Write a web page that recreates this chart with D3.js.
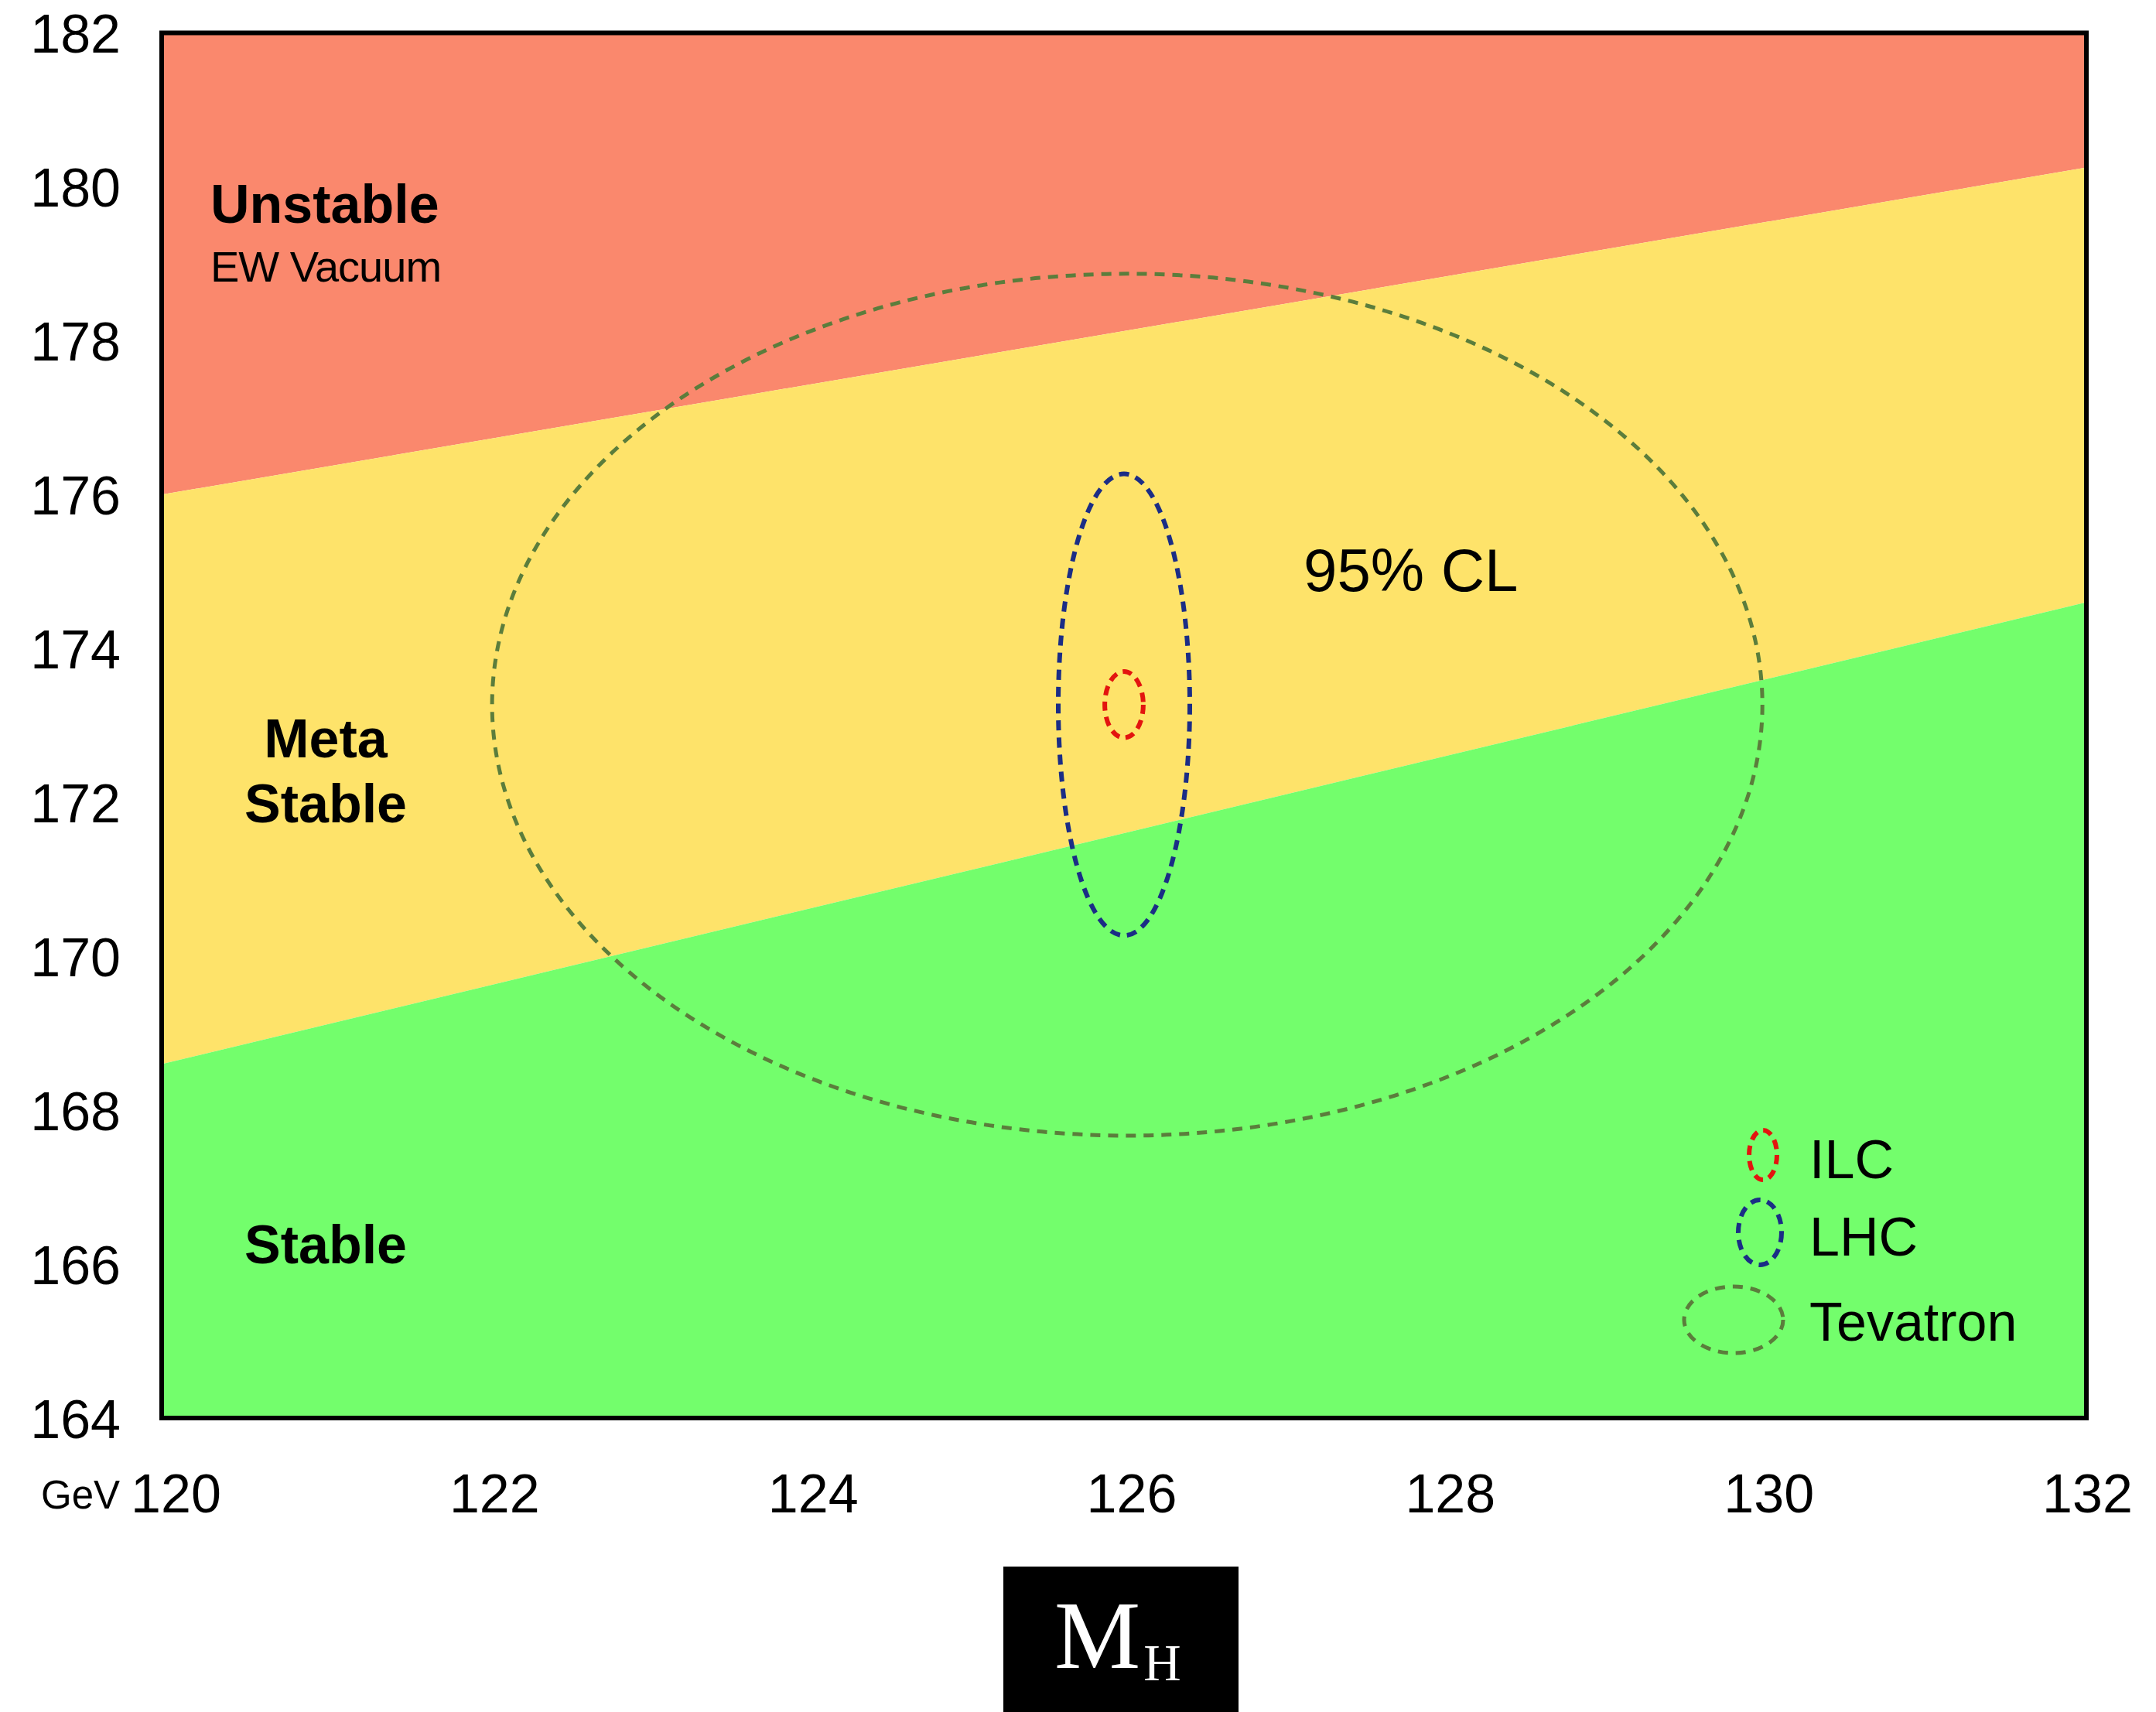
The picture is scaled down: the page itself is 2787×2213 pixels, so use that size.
<!DOCTYPE html>
<html>
<head>
<meta charset="utf-8">
<script src="https://cdn.jsdelivr.net/npm/d3@7"></script>
<style>
  html, body { margin: 0; padding: 0; background: #fff; }
  svg { display: block; font-family: "Liberation Sans", Arial, Helvetica, sans-serif; }
</style>
</head>
<body>
<svg id="chart" width="2787" height="2213"></svg>
<script>
// Higgs mass (GeV) range of the plot and top mass (GeV) range
const higgsDomain = [120, 132];
const topDomain = [164, 182];
const xTicks = [120, 122, 124, 126, 128, 130, 132];
const yTicks = [164, 166, 168, 170, 172, 174, 176, 178, 180, 182];

// stability boundaries: top mass at M_H = 120 and at M_H = 132
const boundaryMH = [120, 132];
const unstableEdge = [176.0, 180.25];
const stableEdge = [168.6, 174.6];

// measurement ellipses (centre and half-axes)
const expNames = ['Tevatron', 'LHC', 'ILC'];
const expCenterMH = [126.02, 126.0, 126.0];
const expCenterMt = [173.27, 173.27, 173.27];
const expHalfMH = [3.96, 0.41, 0.12];
const expHalfMt = [5.6, 3.0, 0.43];
const expColors = ['#5b7d3c', '#1b2d86', '#e3140f'];

const svg = d3.select('#chart');
const margin = { top: 42.5, left: 209 };
const plotBottom = 1833;
const plotRight = 2697;

const x = d3.scaleLinear().domain(higgsDomain).range([margin.left, plotRight]);
const y = d3.scaleLinear().domain(topDomain).range([plotBottom, margin.top]);
// tick labels sit slightly right of the frame ticks in the original
const xLabel = d3.scaleLinear().domain(higgsDomain).range([227, 2698]);

svg.append('defs').append('clipPath').attr('id', 'plotclip')
  .append('rect')
  .attr('x', x(higgsDomain[0])).attr('y', y(topDomain[1]))
  .attr('width', x(higgsDomain[1]) - x(higgsDomain[0]))
  .attr('height', y(topDomain[0]) - y(topDomain[1]));

const bands = svg.append('g').attr('clip-path', 'url(#plotclip)');
const pts = boundaryMH.map((m, i) => ({ m, hi: unstableEdge[i], lo: stableEdge[i] }));

const area = d3.area().x((d) => x(d.m));

bands.append('path')
  .attr('d', area.y0((d) => y(d.hi)).y1(() => y(topDomain[1]))(pts))
  .attr('fill', '#fa886d');

bands.append('path')
  .attr('d', area.y0((d) => y(d.lo)).y1((d) => y(d.hi))(pts))
  .attr('fill', '#fee36a');

bands.append('path')
  .attr('d', area.y0(() => y(topDomain[0])).y1((d) => y(d.lo))(pts))
  .attr('fill', '#73fe6c');

// ellipses
const dashes = ['13,10', '13,9', '12,8'];
const widths = [5, 6, 6];
bands.selectAll('.ell')
  .data(expNames)
  .enter()
  .append('ellipse')
  .attr('cx', (d, i) => x(expCenterMH[i]))
  .attr('cy', (d, i) => y(expCenterMt[i]))
  .attr('rx', (d, i) => x(expCenterMH[i] + expHalfMH[i]) - x(expCenterMH[i]))
  .attr('ry', (d, i) => y(expCenterMt[i]) - y(expCenterMt[i] + expHalfMt[i]))
  .attr('fill', 'none')
  .attr('stroke', (d, i) => expColors[i])
  .attr('stroke-width', (d, i) => widths[i])
  .attr('stroke-dasharray', (d, i) => dashes[i]);

// frame
svg.append('rect')
  .attr('x', x(higgsDomain[0])).attr('y', y(topDomain[1]))
  .attr('width', x(higgsDomain[1]) - x(higgsDomain[0]))
  .attr('height', y(topDomain[0]) - y(topDomain[1]))
  .attr('fill', 'none')
  .attr('stroke', '#000')
  .attr('stroke-width', 6);

// axes
const yAxis = svg.append('g')
  .attr('transform', `translate(${margin.left - 53},0)`)
  .call(d3.axisLeft(y).tickValues(yTicks).tickSize(0).tickPadding(0).tickFormat(d3.format('d')));
yAxis.select('.domain').remove();
yAxis.selectAll('text')
  .attr('font-size', 70)
  .attr('font-family', '"Liberation Sans", Arial, sans-serif')
  .attr('fill', '#000')
  .attr('dy', '0.36em');

const xAxis = svg.append('g')
  .attr('transform', 'translate(0,1955)')
  .call(d3.axisBottom(xLabel).tickValues(xTicks).tickSize(0).tickPadding(0).tickFormat(d3.format('d')));
xAxis.select('.domain').remove();
xAxis.selectAll('text')
  .attr('font-size', 70)
  .attr('font-family', '"Liberation Sans", Arial, sans-serif')
  .attr('fill', '#000')
  .attr('dy', 0);

svg.append('text')
  .attr('x', 53).attr('y', 1950)
  .attr('font-size', 51)
  .text('GeV');

// region labels
svg.append('text').attr('x', 272).attr('y', 288)
  .attr('font-size', 70).attr('font-weight', 'bold').text('Unstable');
svg.append('text').attr('x', 272).attr('y', 364)
  .attr('font-size', 56).attr('letter-spacing', -1).text('EW Vacuum');
svg.append('text').attr('x', 421).attr('y', 979).attr('text-anchor', 'middle')
  .attr('font-size', 70).attr('font-weight', 'bold').text('Meta');
svg.append('text').attr('x', 421).attr('y', 1063).attr('text-anchor', 'middle')
  .attr('font-size', 70).attr('font-weight', 'bold').text('Stable');
svg.append('text').attr('x', 421).attr('y', 1633).attr('text-anchor', 'middle')
  .attr('font-size', 70).attr('font-weight', 'bold').text('Stable');

svg.append('text').attr('x', 1685).attr('y', 764)
  .attr('font-size', 78).text('95% CL');

// legend
const legend = svg.append('g');
const legendRows = [
  { name: 'ILC', cx: 2279, cy: 1493, rx: 18, ry: 32, ty: 1523, idx: 2 },
  { name: 'LHC', cx: 2275, cy: 1593, rx: 28, ry: 42, ty: 1623, idx: 1 },
  { name: 'Tevatron', cx: 2241, cy: 1706, rx: 64, ry: 43, ty: 1733, idx: 0 },
];
legendRows.forEach((r) => {
  legend.append('ellipse')
    .attr('cx', r.cx).attr('cy', r.cy).attr('rx', r.rx).attr('ry', r.ry)
    .attr('fill', 'none')
    .attr('stroke', expColors[r.idx])
    .attr('stroke-width', widths[r.idx])
    .attr('stroke-dasharray', dashes[r.idx]);
  legend.append('text')
    .attr('x', 2339).attr('y', r.ty)
    .attr('font-size', 70)
    .text(r.name);
});

// M_H box
svg.append('rect')
  .attr('x', 1297).attr('y', 2025).attr('width', 304).attr('height', 188)
  .attr('fill', '#000');
const mh = svg.append('text')
  .attr('x', 1363).attr('y', 2156)
  .attr('fill', '#fff')
  .style('font-family', '"Liberation Serif", "Times New Roman", serif')
  .attr('font-size', 125);
mh.append('tspan').text('M');
mh.append('tspan')
  .attr('font-size', 67)
  .attr('dx', 4)
  .attr('dy', 16)
  .text('H');
</script>
</body>
</html>
